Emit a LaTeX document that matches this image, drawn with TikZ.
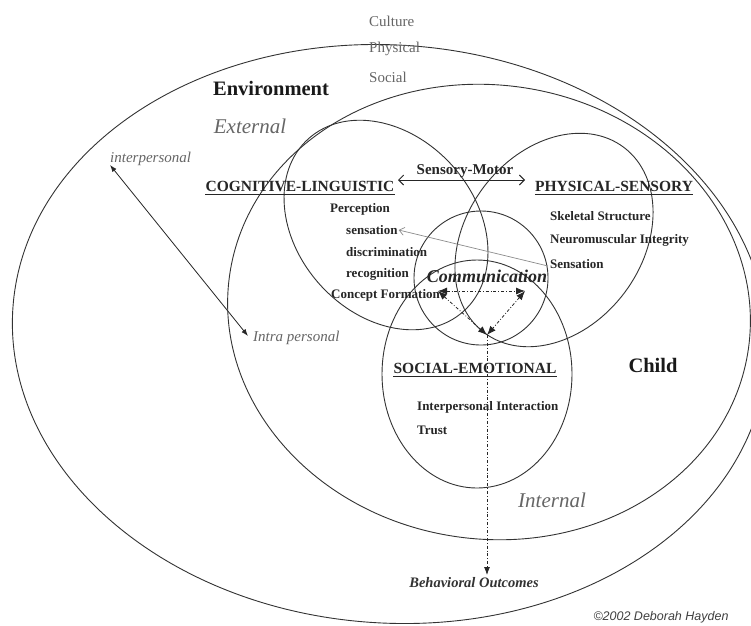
\documentclass[tikz,border=0pt]{standalone}
\usepackage{fontspec}
\setmainfont{Liberation Serif}
\newfontfamily\cpfont{Liberation Sans}
\usetikzlibrary{arrows.meta}
\tikzset{
  dhring/.style={draw=black!80, line width=0.9pt},
  dhsub/.style={font=\fontsize{13}{15}\selectfont\bfseries, text=black!85, inner sep=0pt, anchor=west},
  dhhead/.style={font=\fontsize{15.5}{18}\selectfont\bfseries, text=black!85, inner sep=0pt},
  dhbig/.style={font=\fontsize{20.5}{24}\selectfont\bfseries, text=black!90, inner sep=0pt},
  dhgrayit/.style={font=\fontsize{21}{24}\selectfont\itshape, text=black!60, inner sep=0pt},
  dhsmallit/.style={font=\fontsize{15}{18}\selectfont\itshape, text=black!60, inner sep=0pt, anchor=west},
  dhenv/.style={font=\fontsize{15}{18}\selectfont, text=black!60, inner sep=0pt, anchor=west},
  dhline/.style={draw=black!85, line width=1.3pt},
  dhlink/.style={draw=black!85, line width=0.8pt, {Latex[length=7pt,width=5pt]}-{Latex[length=7pt,width=5pt]}},
  dhflow/.style={draw=black!85, line width=0.8pt, dash dot, {Latex[length=9pt,width=7pt]}-{Latex[length=9pt,width=7pt]}},
  dhout/.style={draw=black!85, line width=0.8pt, dash dot, -{Latex[length=8pt,width=6pt]}},
  dhgrayarrow/.style={draw=black!45, line width=0.7pt, -{Straight Barb[length=5pt,width=8pt]}}
}
\begin{document}
\begin{tikzpicture}[x=1pt,y=-1pt]
\useasboundingbox (0,0) rectangle (751,625);
\clip (0,0) rectangle (751,625);
\fill[white] (0,0) rectangle (751,625);
% ellipses
\draw[dhring, rotate around={-4:(390,334)}] (390,334) ellipse [x radius=378, y radius=289];
\draw[dhring, rotate around={-8:(489,312)}] (489,312) ellipse [x radius=262, y radius=227];
\draw[dhring, rotate around={-48:(386,225)}] (386,225) ellipse [x radius=116, y radius=89];
\draw[dhring, rotate around={53:(554,240)}] (554,240) ellipse [x radius=116, y radius=88];
\draw[dhring] (481,278) circle [radius=67];
\draw[dhring] (477,374) ellipse [x radius=95, y radius=114];
% top texts
\node[dhenv] (cul) at (369,21) {Culture};
\node[dhenv] (phy) at (369,49) {Physical};
\node[dhenv] (soc) at (369,77) {Social};
\node[dhbig] (env) at (271,88) {Environment};
\node[dhgrayit] (ext) at (250,126) {External};
\node[dhsmallit] (inter) at (110,159) {interpersonal};
\node[dhsmallit] (intra) at (253,338) {Intra personal};
% headers
\node[dhhead] (cog) at (300,186) {COGNITIVE-LINGUISTIC};
\draw[dhline] ([yshift=-3.5pt]cog.base west) -- ([yshift=-3.5pt]cog.base east);
\node[dhhead] (phs) at (614,186) {PHYSICAL-SENSORY};
\draw[dhline] ([yshift=-3.5pt]phs.base west) -- ([yshift=-3.5pt]phs.base east);
\node[dhhead] (sem) at (475,368) {SOCIAL-EMOTIONAL};
\draw[dhline] ([yshift=-3.5pt]sem.base west) -- ([yshift=-3.5pt]sem.base east);
\node[dhhead, font=\fontsize{15}{18}\selectfont\bfseries] (sm) at (465,171) {Sensory-Motor};
\coordinate (smL) at (398,180);
\coordinate (smR) at (525,180);
\draw[dhlink, line width=0.9pt, {Straight Barb[length=5pt,width=10pt]}-{Straight Barb[length=5pt,width=10pt]}] (smL) -- (smR);
% cognitive items
\node[dhsub] (perc) at (330,209) {Perception};
\node[dhsub] (sen) at (346,230) {sensation};
\node[dhsub] (disc) at (346,252) {discrimination};
\node[dhsub] (reco) at (346,274) {recognition};
\node[dhsub] (conc) at (331,295) {Concept Formation};
% physical items
\node[dhsub] (skel) at (550,216) {Skeletal Structure};
\node[dhsub] (neur) at (550,240) {Neuromuscular Integrity};
\node[dhsub] (Sen) at (550,264) {Sensation};
% social items
\node[dhsub] (ipi) at (417,407) {Interpersonal Interaction};
\node[dhsub] (tru) at (417,430) {Trust};
% communication
\node[inner sep=0pt, font=\fontsize{18}{21}\selectfont\bfseries\itshape, text=black!85] (com) at (487,276) {Communication};
\node[dhbig] (chi) at (653,365) {Child};
\node[dhgrayit] (int) at (552,500) {Internal};
\node[inner sep=0pt, font=\fontsize{14.5}{17}\selectfont\bfseries\itshape, text=black!80] (beh) at (474,583) {Behavioral Outcomes};
\node[inner sep=0pt, font=\cpfont\fontsize{12.5}{14}\selectfont\itshape, text=black!75] (cpy) at (661,617) {©2002 Deborah Hayden};
% arrows
\coordinate (ipA) at (110,165);
\coordinate (ipB) at (248,336);
\draw[dhlink] (ipA) -- (ipB);
\draw[dhgrayarrow] ([xshift=-2pt,yshift=-2pt]Sen.west) -- ([xshift=1pt]sen.east);
\coordinate (tL) at (438,291);
\coordinate (tR) at (525,291);
\coordinate (tB) at (487,335);
\coordinate (bo) at (487,575);
\draw[dhflow] (tL) -- (tR);
\draw[dhflow] (tL) -- (tB);
\draw[dhflow] (tR) -- (tB);
\draw[dhout] (tB) -- (bo);
\end{tikzpicture}
\end{document}
